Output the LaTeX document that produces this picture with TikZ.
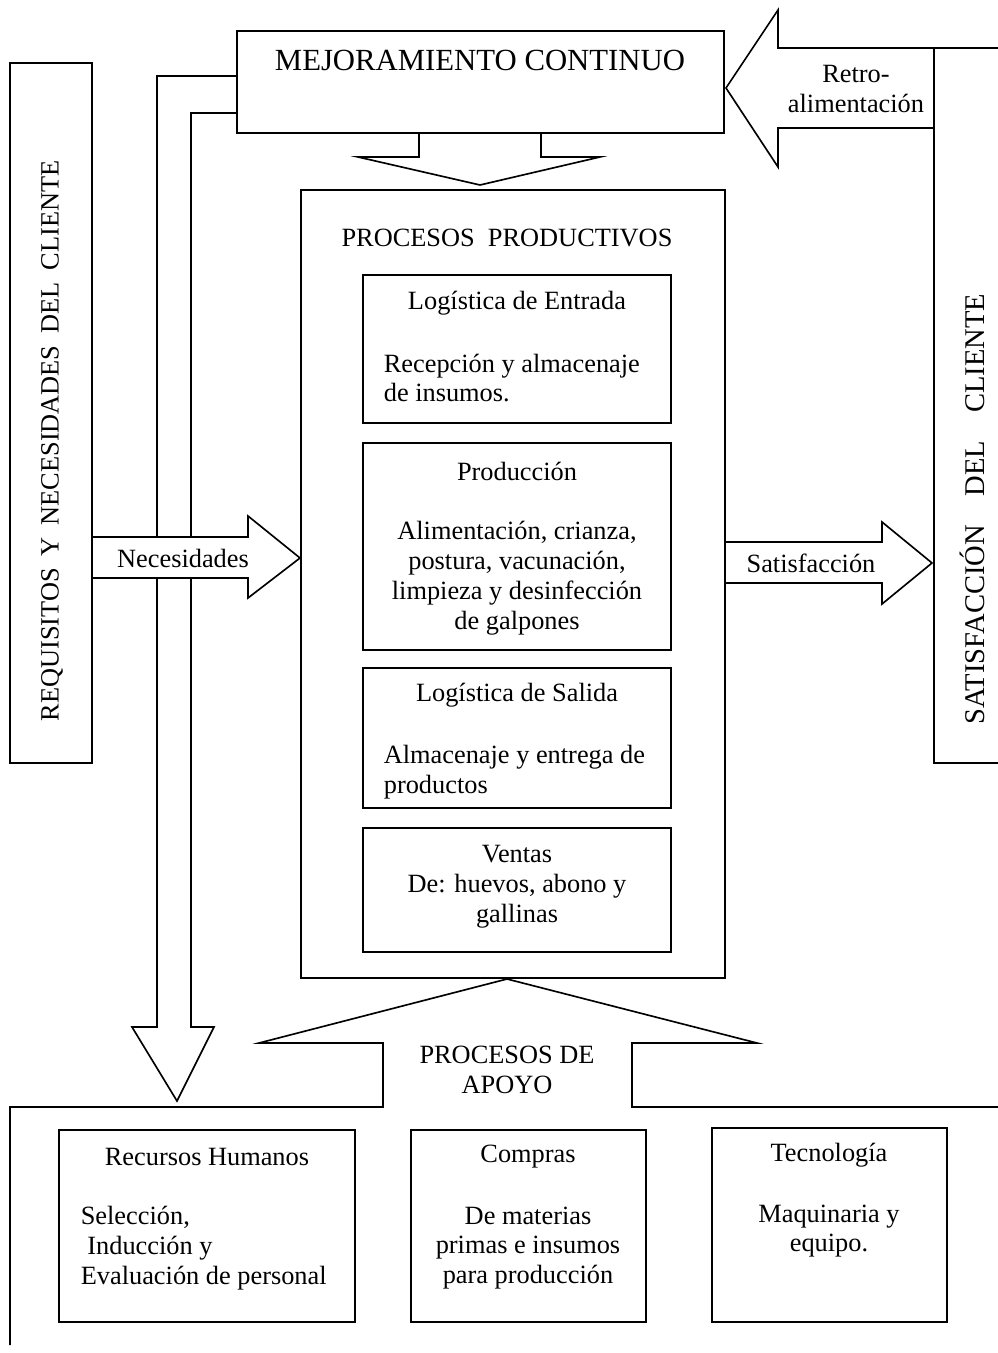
\documentclass[tikz,border=0pt]{standalone}
\usepackage{fontspec}
\setmainfont{Liberation Serif}

\begin{document}
\begin{tikzpicture}[x=0.016cm,y=-0.016cm,line width=0.75pt,
   txt/.style={inner sep=0pt,align=center,font=\fontsize{12}{13.6}\selectfont},
   txtl/.style={txt,align=left,anchor=west},
   big/.style={inner sep=0pt,font=\fontsize{14}{16}\selectfont},
   side/.style={inner sep=0pt,rotate=90,font=\fontsize{12}{14}\selectfont}]
   \useasboundingbox (0,0) rectangle (998,1353);

   % retroalimentacion hacia la izquierda
   \draw (237,76) -- (157,76) -- (157,1027) -- (132,1027) -- (177,1101)
         -- (214,1027) -- (191,1027) -- (191,113) -- (237,113);

   \draw[fill=white] (92,537) -- (248,537) -- (248,516) -- (300,558)
         -- (248,598) -- (248,578) -- (92,578);
   \node[txt] (nec) at (183,558) {Necesidades};

   \draw (10,63) rectangle (92,763);
   \node[side] (req) at (52,441)
      {REQUISITOS\hspace{0.45em}Y\hspace{0.45em}NECESIDADES\hspace{0.45em}DEL\hspace{0.45em}CLIENTE};

   % mejoramiento
   \draw (237,31) rectangle (724,133);
   \draw (419,133) -- (419,157) -- (358,157) -- (480,185) -- (600,157)
         -- (541,157) -- (541,133);
   \node[big] (mej) at (480,60) {MEJORAMIENTO CONTINUO};

   \draw (998,48) -- (778,48) -- (778,10) -- (726,88) -- (778,167)
         -- (778,128) -- (934,128);
   \node[txt] (retro) at (856,89) {Retro-\\alimentación};

   \draw (934,48) -- (934,763) -- (998,763);
   \node[side,font=\fontsize{13}{15}\selectfont] (sat) at (972,509)
      {SATISFACCIÓN\hspace{1em}DEL\hspace{1em}CLIENTE};

   % procesos productivos
   \draw (301,190) rectangle (725,978);
   \node[txt] (prod) at (507,238) {PROCESOS\ \ PRODUCTIVOS};

   \draw (363,275) rectangle (671,423);
   \node[txt] (entrada) at (517,303) {Logística de Entrada};
   \node[txtl] (entradatxt) at (383,378) {Recepción y almacenaje\\de insumos.};

   \draw (363,443) rectangle (671,650);
   \node[txt] (produccion) at (517,471) {Producción};
   \node[txt] (producciontxt) at (517,578) {Alimentación, crianza,\\postura, vacunación,\\limpieza y desinfección\\de galpones};

   \draw (363,668) rectangle (671,808);
   \node[txt] (salida) at (517,695) {Logística de Salida};
   \node[txtl] (salidatxt) at (383,772) {Almacenaje y entrega de\\productos};

   \draw (363,828) rectangle (671,952);
   \node[txt] (ventas) at (517,887) {Ventas\\De: huevos, abono y\\gallinas};

   \draw (726,542) -- (882,542) -- (882,522) -- (932,563) -- (882,604)
         -- (882,583) -- (726,583);
   \node[txt] (satis) at (811,563) {Satisfacción};

   % procesos de apoyo
   \draw (10,1345) -- (10,1107) -- (383,1107) -- (383,1043) -- (259,1043)
         -- (507,979) -- (757,1043) -- (632,1043) -- (632,1107) -- (998,1107);
   \node[txt] (apoyo) at (507,1070) {PROCESOS DE\\APOYO};

   \draw (59,1130) rectangle (355,1322);
   \node[txt] (rrhh) at (207,1157) {Recursos Humanos};
   \node[txtl] (rrhhtxt) at (80,1248) {Selección,\\\hspace*{0.25em}Inducción y\\Evaluación de personal};

   \draw (411,1130) rectangle (646,1322);
   \node[txt] (compras) at (528,1157) {Compras};
   \node[txt] (comprastxt) at (528,1248) {De materias\\primas e insumos\\para producción};

   \draw (712,1128) rectangle (947,1322);
   \node[txt] (tec) at (829,1155) {Tecnología};
   \node[txt] (tectxt) at (829,1231) {Maquinaria y\\equipo.};
\end{tikzpicture}
\end{document}
